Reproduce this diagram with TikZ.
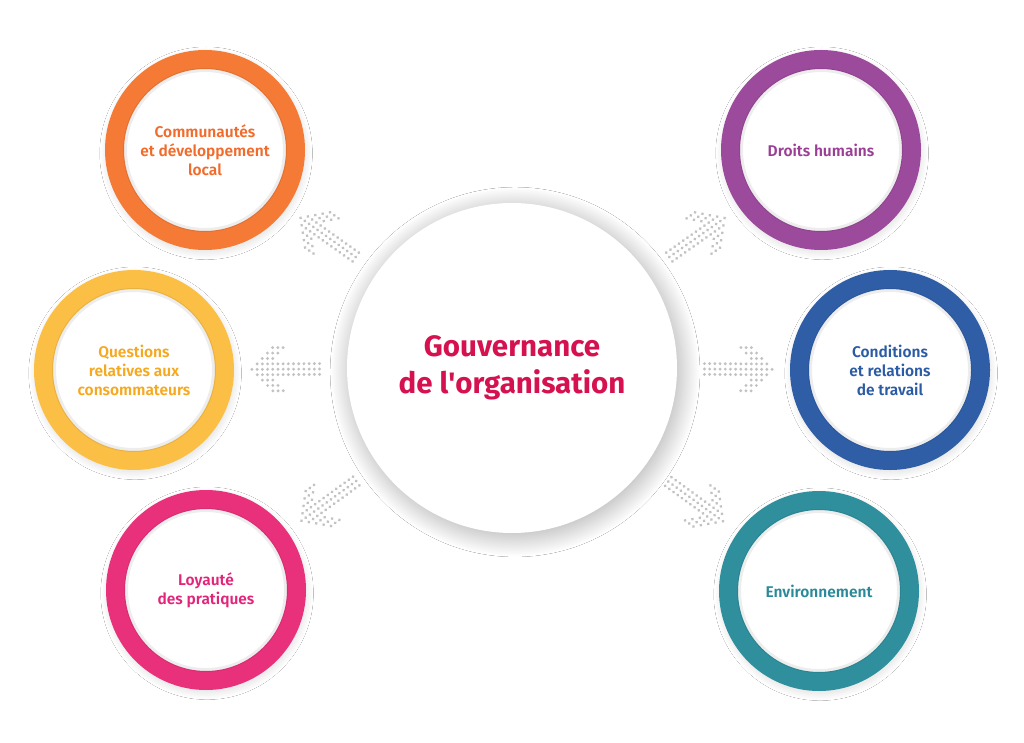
\documentclass[tikz,border=0pt]{standalone}
\usepackage{fontspec}
\setmainfont{Fira Sans}[BoldFont={Fira Sans SemiBold}]
\newfontfamily\govfont{Fira Sans Bold}
\usepackage{tikz}
\usetikzlibrary{shadows.blur}

\definecolor{govred}{HTML}{D5124F}
\definecolor{orgring}{HTML}{F47A36}
\definecolor{orgtext}{HTML}{F26B2B}
\definecolor{yelring}{HTML}{FBBF45}
\definecolor{yeltext}{HTML}{F6A81E}
\definecolor{pinkring}{HTML}{E9317B}
\definecolor{pinktext}{HTML}{E3257A}
\definecolor{purring}{HTML}{9C4A9B}
\definecolor{purtext}{HTML}{9A3F95}
\definecolor{bluring}{HTML}{2F5EA7}
\definecolor{blutext}{HTML}{2C5BA6}
\definecolor{tealring}{HTML}{2F8F9D}
\definecolor{tealtext}{HTML}{2A8A9A}
\definecolor{dotgrey}{HTML}{C2C2C2}

\tikzset{
  ring/.style 2 args={circle, draw=#1, line width=19pt, fill=white, minimum size=181pt,
    inner sep=0pt, outer sep=0pt, align=center, text=#2,
    font=\fontsize{15.5}{19}\selectfont\bfseries,
    blur shadow={shadow blur radius=7pt, shadow opacity=14, shadow xshift=1pt,
      shadow yshift=-3pt, shadow scale=1.09, shadow blur steps=40}},
  innershade/.style={draw=black, opacity=0.07, line width=4pt},
  dotarrow/.pic={
    \foreach \r in {-4,...,4} {
      \pgfmathtruncatemacro{\a}{abs(\r)}
      \pgfmathtruncatemacro{\first}{\a<2 ? 0 : 11-\a}
      \pgfmathtruncatemacro{\last}{13-\a}
      \foreach \c in {\first,...,\last}
        \fill[dotgrey] ({(\c-6.5)*5.2}, \r*5.4) circle (1.6);
    }
  }
}

\begin{document}
\begin{tikzpicture}[x=1pt, y=-1pt]
\useasboundingbox[fill=white] (0,0) rectangle (1024,743);

% centre
\node[circle, fill=white, minimum size=330pt, inner sep=0pt, outer sep=0pt, align=center,
  text=govred, font=\govfont\fontsize{29.5}{37}\selectfont,
  blur shadow={shadow blur radius=18pt, shadow opacity=30, shadow xshift=3pt,
    shadow yshift=-4pt, shadow scale=1.01, shadow blur steps=50}] (gov) at (512,368)
  {Gouvernance\\de l{\textquotesingle}organisation};

% left side
\node[ring={orgring}{orgtext}] (com) at (205,150) {Communautés\\et développement\\local};
\node[ring={yelring}{yeltext}] (que) at (134,370) {Questions\\relatives aux\\consommateurs};
\node[ring={pinkring}{pinktext}] (loy) at (206,590) {Loyauté\\des pratiques};

% right side
\node[ring={purring}{purtext}] (dh) at (821,150) {Droits humains};
\node[ring={bluring}{blutext}] (cond) at (890,370) {Conditions\\et relations\\de travail};
\node[ring={tealring}{tealtext}] (env) at (819,591) {Environnement};

\foreach \n in {com,que,loy,dh,cond,env} {
  \draw[innershade] (\n.center) circle (80);
  \path (gov) -- (\n) pic[midway, sloped, allow upside down] {dotarrow};
}
\end{tikzpicture}
\end{document}
